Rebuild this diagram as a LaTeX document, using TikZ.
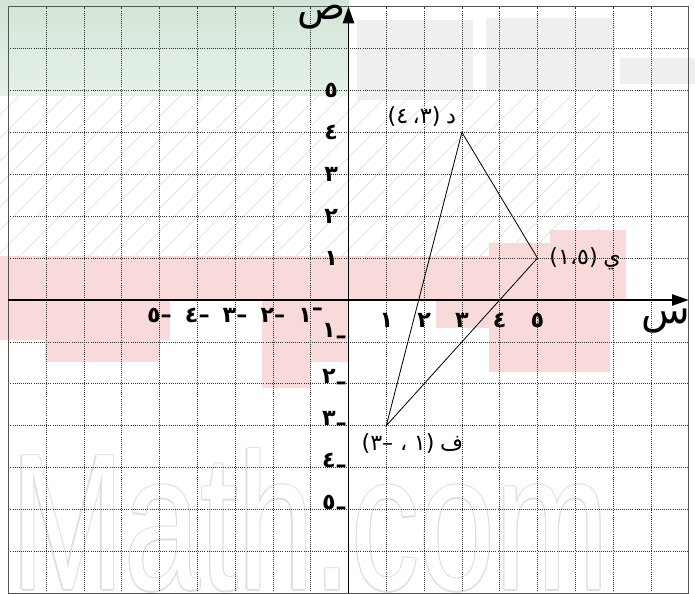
\documentclass[tikz,border=0pt]{standalone}
\usepackage{fontspec}
\newfontfamily\arfont[Script=Arabic]{DejaVu Sans}
\newfontfamily\lafont{DejaVu Sans}
\newfontfamily\wmfont{Liberation Sans}
\usetikzlibrary{arrows.meta}
\definecolor{wmpink}{RGB}{248,218,218}
\definecolor{wmgreen}{RGB}{210,229,214}
\definecolor{wmgray}{RGB}{239,239,239}
\definecolor{wmhatch}{RGB}{234,234,234}
\definecolor{wmtext}{RGB}{222,222,222}
\definecolor{framecol}{RGB}{85,85,85}
\newcommand\AR[1]{\hbox{\arfont #1}}
\newcommand\LA[1]{\hbox{\lafont #1}}
\tikzset{
  gridline/.style={black!80, line width=0.55pt, dash pattern=on 0.6pt off 1.2pt},
  framebox/.style={framecol, line width=1.3pt},
  axisline/.style={black, line width=1.3pt, -{Triangle[length=0.5cm,width=0.34cm]}},
  triline/.style={black, line width=0.7pt, line join=miter},
  ticklbl/.style={inner sep=0pt, font=\fontsize{19}{22}\selectfont\bfseries},
  ptlbl/.style={inner sep=0pt, font=\fontsize{19}{22}\selectfont},
  axlbl/.style={inner sep=0pt, font=\fontsize{34}{38}\selectfont},
  wm/.style={inner sep=0pt, anchor=base, xscale=0.7, font=\wmfont\fontsize{166}{166}\selectfont},
}
\begin{document}
\begin{tikzpicture}[x=1.134cm,y=1.257cm]
\useasboundingbox (-9.2196,-7.0167) rectangle (9.1667,7.1599);
% ---- faded background picture (pixel coordinates)
\begin{scope}[shift={(-9.2196,7.1599)},x=0.03cm,y=-0.03cm]
  \shade[top color=wmgreen,bottom color=wmgreen!55] (0,0) rectangle (349,96);
  \fill[wmgray] (357,20) rectangle (473,100);
  \fill[wmgray] (486,18) rectangle (615,90);
  \fill[wmgray] (620,58) rectangle (695,84);
  \begin{scope}
    \clip (0,96) rectangle (600,300);
    \foreach \k in {-300,-277,...,600} \draw[wmhatch,line width=1.1pt] (\k,300) -- ++(220,-220);
  \end{scope}
  \fill[wmpink] (0,256) rectangle (490,300);
  \fill[wmpink] (0,300) rectangle (170,340);
  \fill[wmpink] (45,340) rectangle (160,362);
  \fill[wmpink] (262,300) rectangle (349,362);
  \fill[wmpink] (262,362) rectangle (310,388);
  \fill[wmpink] (436,300) rectangle (498,328);
  \fill[wmpink] (489,243) rectangle (610,372);
  \fill[wmpink] (550,230) rectangle (626,300);
\end{scope}
\coordinate (wmc) at (-1.019,-6.921);
\foreach \dx/\dy [count=\i] in {1/0,-1/0,0/1,0/-1,0.7/0.7,-0.7/0.7,0.7/-0.7,-0.7/-0.7}
  \node[wm,text=wmtext] (wm\i) at ([shift={({\dx*0.035cm},{\dy*0.035cm})}]wmc) {Math.com};
\node[wm,text=white] (wmtop) at (wmc) {Math.com};
% ---- grid
\foreach \i in {-8,...,-1,1,2,...,8} \draw[gridline] (\i,-7) -- (\i,7);
\foreach \j in {-6,...,-1,1,2,...,6} \draw[gridline] (-9,\j) -- (9,\j);
\draw[framebox] (-9,-7) rectangle (9,7);
% ---- axes
\coordinate (xl) at (-9,0); \coordinate (xr) at (9,0);
\coordinate (yb) at (0,-7); \coordinate (yt) at (0,7);
\draw[axisline] (xl) -- (xr);
\draw[axisline] (yb) -- (yt);
\node[axlbl] (ylab) at (-0.72,6.74) {\AR{ص}};
\node[axlbl] (xlab) at (8.40,-0.50) {\AR{س}};
% ---- triangle
\coordinate (D) at (3,4);
\coordinate (Y) at (5,1);
\coordinate (F) at (1,-3);
\draw[triline] (D) -- (Y) -- (F) -- cycle;
% ---- tick labels
\foreach \i/\d in {1/١,2/٢,3/٣,4/٤,5/٥} {
  \node[ticklbl] (px\i) at (\i,-0.48) {\AR{\d}};
  \node[ticklbl] (py\i) at (-0.46,\i) {\AR{\d}};
}
\foreach \i/\d in {2/٢,3/٣,4/٤,5/٥} {
  \node[ticklbl] (nx\i) at (-\i,-0.36) {\AR{\d}\LA{–}};
  \node[ticklbl,anchor=east] (ny\i) at (-0.04,{-\i+0.11}) {\AR{\d}\raisebox{-0.25em}{\LA{–}}};
}
\node[ticklbl] (nx1) at (-1,-0.36) {\AR{١}\raisebox{0.28em}{\LA{–}}};
\node[ticklbl,anchor=east] (ny1) at (-0.04,-0.8) {\AR{١}\raisebox{-0.25em}{\LA{–}}};
% ---- point labels
\node[ptlbl] (Dl) at (1.94,4.38) {\LA{(}\AR{٤}\hspace{0.2em}\AR{،}\AR{٣}\LA{)}\hspace{0.25em}\AR{د}};
\node[ptlbl] (Yl) at (6.26,0.98) {\LA{(}\AR{١}\AR{،}\AR{٥}\LA{)}\hspace{0.25em}\AR{ي}};
\node[ptlbl] (Fl) at (1.69,-3.42) {\LA{(}\AR{٣}\LA{–}\hspace{0.3em}\AR{،}\hspace{0.3em}\AR{١}\LA{)}\hspace{0.25em}\AR{ف}};
\end{tikzpicture}
\end{document}
